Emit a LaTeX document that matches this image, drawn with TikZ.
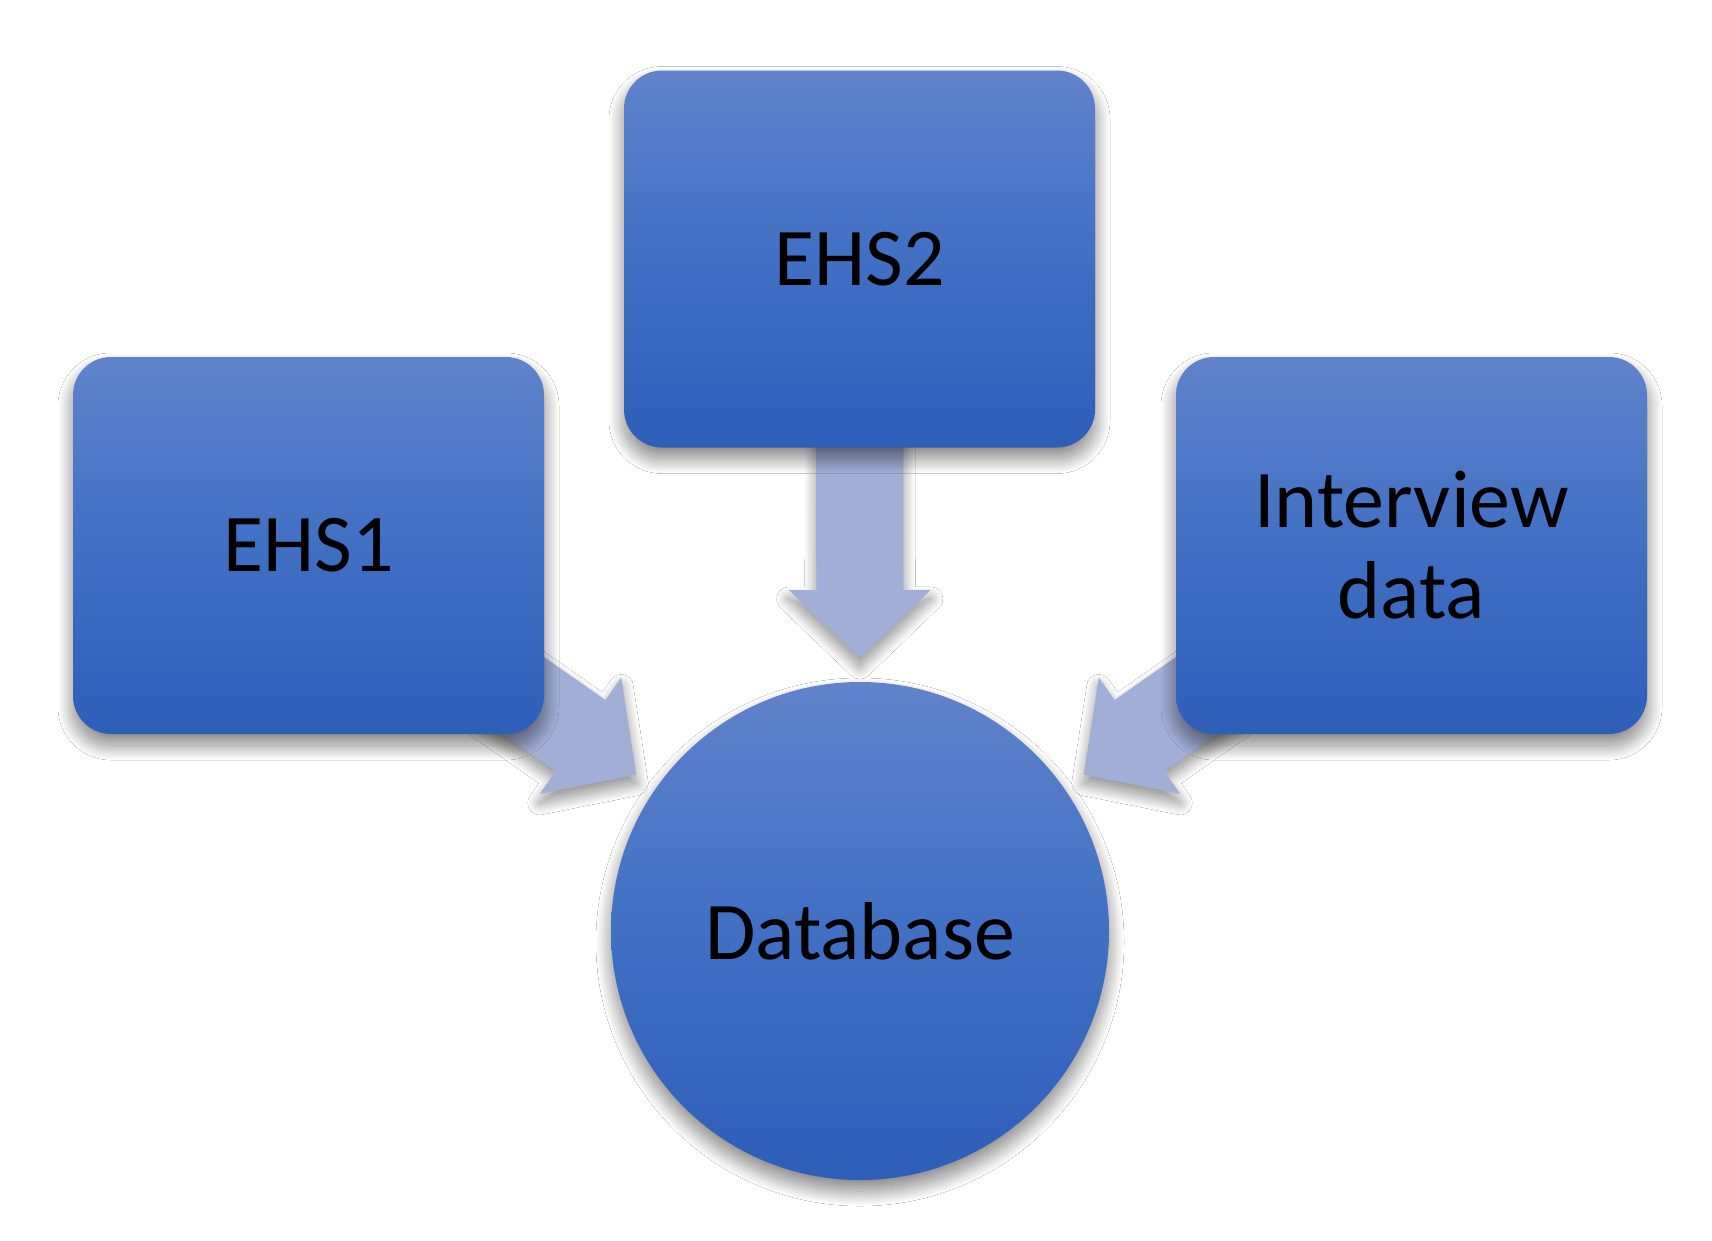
\documentclass[tikz,border=0pt]{standalone}
\usepackage{fontspec}
\setmainfont{Carlito}
\usetikzlibrary{calc,shadows.blur}
\pgfdeclarelayer{background}
\pgfsetlayers{background,main}
\definecolor{boxtop}{RGB}{96,131,203}
\definecolor{boxmid}{RGB}{64,111,196}
\definecolor{boxbot}{RGB}{46,94,184}
\definecolor{arrowcol}{RGB}{161,175,215}
\begin{document}
\begin{tikzpicture}[x=1pt,y=-1pt,
  softshadow/.style={blur shadow={shadow xshift=0pt,shadow yshift=-11pt,shadow blur radius=15pt,shadow blur steps=40,shadow opacity=50}},
  box/.style={rectangle, rounded corners=38pt, minimum width=471pt, minimum height=377pt,
    inner sep=0pt, top color=boxtop, bottom color=boxbot, middle color=boxmid,
    softshadow, align=center, font=\fontsize{82}{91}\selectfont, text=black},
  dbnode/.style={circle, minimum size=498pt, inner sep=0pt,
    top color=boxtop, bottom color=boxbot, middle color=boxmid,
    softshadow, align=center, font=\fontsize{82}{91}\selectfont, text=black},
  blockarrow/.style={fill=arrowcol, blur shadow={shadow xshift=0pt,shadow yshift=-9pt,shadow blur radius=12pt,shadow blur steps=30,shadow opacity=45}}]
\useasboundingbox (0,0) rectangle (1712,1240);
\node[box] (e1) at (308.5,545.5) {EHS1};
\node[box] (e2) at (859.5,259) {EHS2};
\node[box] (iv) at (1411.5,545.5) {Interview\\data};
\node[dbnode] (db) at (860,931) {Database};
\begin{pgfonlayer}{background}
\fill[white] (0,0) rectangle (1712,1240);
\foreach \s in {e1,e2,iv} {
  \coordinate (\s-tip) at ($(db.center)!273pt!(\s.center)$);
  \coordinate (\s-hb) at ($(db.center)!341pt!(\s.center)$);
  \coordinate (\s-tl) at ($(db.center)!540pt!(\s.center)$);
  \path[blockarrow] (\s-tip)
    -- ($(\s-hb)!71pt!90:(\s.center)$)
    -- ($(\s-hb)!43.5pt!90:(\s.center)$)
    -- ($(\s-tl)!43.5pt!90:(\s.center)$)
    -- ($(\s-tl)!43.5pt!-90:(\s.center)$)
    -- ($(\s-hb)!43.5pt!-90:(\s.center)$)
    -- ($(\s-hb)!71pt!-90:(\s.center)$)
    -- cycle;
}
\end{pgfonlayer}
\end{tikzpicture}
\end{document}
